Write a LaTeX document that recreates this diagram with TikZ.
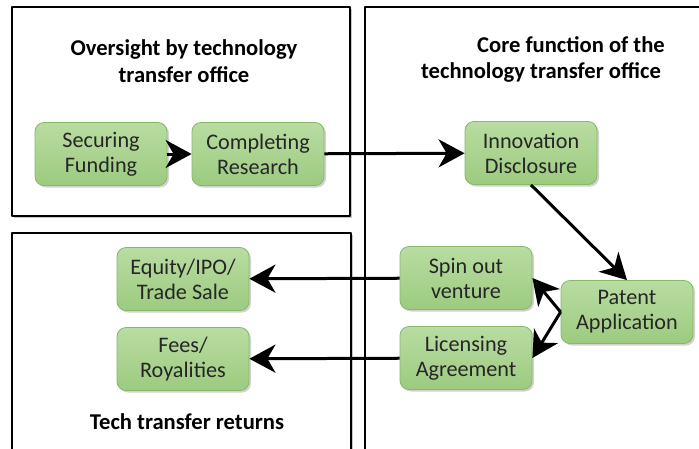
\documentclass[tikz,border=0pt]{standalone}
\usepackage{fontspec}
\setmainfont{Carlito}
\usetikzlibrary{arrows.meta,shadows}
\definecolor{greentop}{HTML}{B9DCA2}
\definecolor{greenbot}{HTML}{9CCB7F}
\definecolor{greenedge}{HTML}{86B968}
\tikzset{
  panel/.style={draw,line width=1.5pt,fill=white,
    drop shadow={shadow xshift=2pt,shadow yshift=-2pt,opacity=.45}},
  stage/.style={draw=greenedge,line width=.8pt,rounded corners=9pt,
    top color=greentop,bottom color=greenbot,text=black!85,
    minimum width=132pt,minimum height=63pt,align=center,inner sep=2pt,
    drop shadow={shadow xshift=2pt,shadow yshift=-2pt,opacity=.35}},
  heading/.style={font=\fontsize{22.6}{27}\selectfont\bfseries,align=center},
  flow/.style={-{Stealth[length=26pt 0,width=28pt 0,inset=8pt 0]},line width=3pt}
}
\begin{document}
\begin{tikzpicture}[x=1pt,y=-1pt,line join=round,font=\fontsize{22.2}{25}\selectfont]
  \useasboundingbox (0,0) rectangle (699,448);
  \clip (0,0) rectangle (699,448);
  %panels
  \path[panel] (365,7) rectangle (720,470);
  \path[panel] (12,7) rectangle (350,216);
  \path[panel] (12,233) rectangle (351,470);
  \node[heading] (oversight) at (184,61) {Oversight by technology\\transfer office};
  \node[heading] (core) at (571,45) {Core function of the};
  \node[heading] (coresub) at (541,72) {technology transfer office};
  \node[heading] (returns) at (187,422) {Tech transfer returns};
  %stages
  \node[stage] (fund) at (101,154) {Securing\\Funding};
  \node[stage] (res) at (258,154) {Completing\\Research};
  \node[stage] (innov) at (531,153) {Innovation\\Disclosure};
  \node[stage] (patent) at (627,312) {Patent\\Application};
  \node[stage] (spin) at (466,278) {Spin out\\venture};
  \node[stage] (lic) at (466,358) {Licensing\\Agreement};
  \node[stage] (equity) at (183,279) {Equity/IPO/\\Trade Sale};
  \node[stage] (fees) at (183,359) {Fees/\\Royalities};
  %arrows
  \draw[flow] (fund) -- (res);
  \draw[flow] (res) -- (innov);
  \draw[flow] (innov.south) -- (patent.north);
  \draw[flow] (patent.west) -- (spin.east);
  \draw[flow] (patent.west) -- (lic.east);
  \draw[flow] (spin) -- (equity);
  \draw[flow] (lic) -- (fees);
\end{tikzpicture}
\end{document}
